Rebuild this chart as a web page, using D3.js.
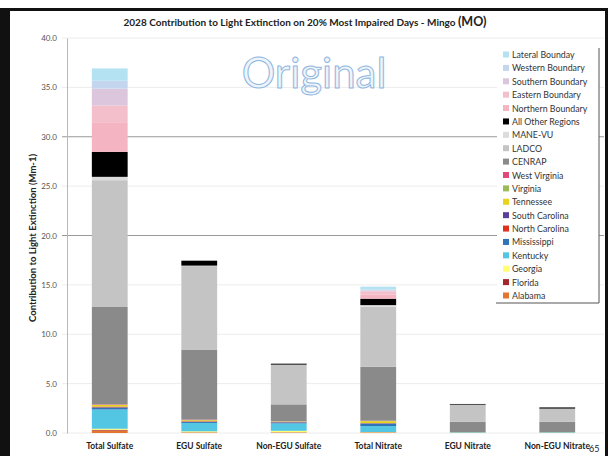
<!DOCTYPE html>
<html>
<head>
<meta charset="utf-8">
<script src="https://cdn.jsdelivr.net/npm/d3@7"></script>
<style>
  body { margin: 0; background: #fff; }
  svg { display: block; font-family: Lato, "Open Sans", sans-serif; }
</style>
</head>
<body>
<svg id="chart"></svg>
<script>
// categories along the x axis
const categories = ["Total Sulfate", "EGU Sulfate", "Non-EGU Sulfate", "Total Nitrate", "EGU Nitrate", "Non-EGU Nitrate"];

// source regions, stacked bottom -> top
const sources = ["Alabama", "Florida", "Georgia", "Kentucky", "Mississippi", "North Carolina",
  "South Carolina", "Tennessee", "Virginia", "West Virginia", "CENRAP", "LADCO", "MANE-VU",
  "All Other Regions", "Northern Boundary", "Eastern Boundary", "Southern Boundary",
  "Western Boundary", "Lateral Bounday"];

// values per source (Mm-1), one per category
const alabama       = [0.25, 0.05, 0.05, 0.05, 0.01, 0.01];
const florida       = [0.08, 0.02, 0.02, 0.02, 0.00, 0.00];
const georgia       = [0.10, 0.10, 0.15, 0.03, 0.01, 0.01];
const kentucky      = [1.95, 0.85, 0.75, 0.60, 0.05, 0.05];
const mississippi   = [0.20, 0.10, 0.10, 0.25, 0.01, 0.01];
const northCarolina = [0.04, 0.05, 0.02, 0.02, 0.00, 0.00];
const southCarolina = [0.05, 0.02, 0.02, 0.03, 0.00, 0.00];
const tennessee     = [0.17, 0.10, 0.05, 0.20, 0.01, 0.01];
const virginia      = [0.02, 0.02, 0.01, 0.02, 0.00, 0.00];
const westVirginia  = [0.05, 0.05, 0.02, 0.03, 0.00, 0.00];
const cenrap        = [9.85, 7.09, 1.71, 5.45, 1.06, 1.06];
const ladco         = [12.84, 8.45, 4.00, 6.10, 1.70, 1.30];
const maneVu        = [0.34, 0.05, 0.02, 0.15, 0.02, 0.02];
const allOther      = [2.53, 0.50, 0.10, 0.65, 0.07, 0.12];
const northernBnd   = [3.00, 0.00, 0.00, 0.40, 0.00, 0.00];
const easternBnd    = [1.70, 0.00, 0.00, 0.35, 0.00, 0.00];
const southernBnd   = [1.70, 0.00, 0.00, 0.10, 0.00, 0.00];
const westernBnd    = [0.80, 0.00, 0.00, 0.07, 0.00, 0.00];
const lateralBnd    = [1.25, 0.00, 0.00, 0.30, 0.00, 0.00];

const seriesValues = [alabama, florida, georgia, kentucky, mississippi, northCarolina,
  southCarolina, tennessee, virginia, westVirginia, cenrap, ladco, maneVu, allOther,
  northernBnd, easternBnd, southernBnd, westernBnd, lateralBnd];

const yTicks = [0, 5, 10, 15, 20, 25, 30, 35, 40];

const colors = ["#e2762f", "#a3262a", "#ffff70", "#52c6e2", "#2f73b8", "#e0301e",
  "#5b3f9c", "#e8d21e", "#9bbb59", "#e0487e", "#8a8a8a", "#c4c4c4", "#dcdcdc",
  "#000000", "#f4b4c2", "#f2bfcb", "#dcc6de", "#c3d6ee", "#b4e2f2"];

const W = 609, H = 456;
const svg = d3.select("#chart").attr("width", W).attr("height", H);

// table for d3.stack
const table = categories.map((c, i) => {
  const row = { category: c };
  sources.forEach((s, j) => { row[s] = seriesValues[j][i]; });
  return row;
});
const stacked = d3.stack().keys(sources)(table);

const x = d3.scaleBand().domain(categories).range([65, 602]).paddingInner(0.6).paddingOuter(0.3);
const y = d3.scaleLinear().domain([0, 40]).range([433, 38]);
const color = d3.scaleOrdinal().domain(sources).range(colors);

// frame
svg.append("rect").attr("x", 0).attr("y", 8).attr("width", 10).attr("height", H - 8).attr("fill", "#111");
svg.append("rect").attr("x", 0).attr("y", 8).attr("width", 608).attr("height", 3).attr("fill", "#111");
svg.append("rect").attr("x", 605).attr("y", 8).attr("width", 3).attr("height", H - 8).attr("fill", "#111");

// title
const title = svg.append("text")
  .attr("x", 305).attr("y", 26)
  .attr("text-anchor", "middle")
  .style("font-size", "10px").style("font-weight", "bold").style("fill", "#222");
title.append("tspan").text("2028 Contribution to Light Extinction on 20% Most Impaired Days - Mingo ");
title.append("tspan").style("font-size", "12.5px").text(" (MO)");

// gridlines
svg.append("g").selectAll("line")
  .data(yTicks)
  .join("line")
  .attr("x1", 62).attr("x2", 604)
  .attr("y1", d => y(d)).attr("y2", d => y(d))
  .attr("stroke", d => (d === 20 || d === 30) ? "#9a9a9a" : "#ececec")
  .attr("stroke-width", 1);

// y axis
const yAxis = svg.append("g")
  .attr("transform", "translate(67,0)")
  .call(d3.axisLeft(y).tickValues(yTicks).tickFormat(d3.format(".1f")).tickSize(0).tickPadding(10));
yAxis.select(".domain").attr("stroke", "#b8b8b8");
yAxis.selectAll("text").style("font-size", "8px").style("fill", "#555").style("font-family", "Lato, sans-serif");

svg.append("text")
  .attr("text-anchor", "middle")
  .attr("transform", "translate(36,238) rotate(-90)")
  .style("font-size", "9.5px").style("font-weight", "bold").style("fill", "#222")
  .text("Contribution to Light Extinction (Mm-1)");

// watermark
svg.append("text")
  .attr("x", 314).attr("y", 88)
  .attr("text-anchor", "middle")
  .style("font-size", "42px")
  .style("fill", "#eef4fb")
  .style("stroke", "#8fb6e0")
  .style("stroke-width", 1)
  .text("Original");

// bars
svg.append("g").selectAll("g")
  .data(stacked)
  .join("g")
  .attr("fill", d => color(d.key))
  .selectAll("rect")
  .data(d => d)
  .join("rect")
  .attr("x", d => x(d.data.category))
  .attr("width", x.bandwidth())
  .attr("y", d => y(d[1]))
  .attr("height", d => Math.max(0, y(d[0]) - y(d[1])));

// x labels
svg.append("g").selectAll("text")
  .data(categories)
  .join("text")
  .attr("x", d => x(d) + x.bandwidth() / 2)
  .attr("y", 449)
  .attr("text-anchor", "middle")
  .style("font-size", "8.5px").style("font-weight", "bold").style("fill", "#222")
  .text(d => d);

// legend
const legend = svg.append("g");
legend.append("rect")
  .attr("x", 497).attr("y", 45).attr("width", 102).attr("height", 258)
  .attr("fill", "#fff");
legend.append("path")
  .attr("d", "M599,48V303H496")
  .attr("fill", "none").attr("stroke", "#555").attr("stroke-width", 1);

const legendItems = sources.slice().reverse();
const ly = d3.scalePoint().domain(legendItems).range([55, 296]);
const items = legend.selectAll("g.item")
  .data(legendItems)
  .join("g")
  .attr("class", "item")
  .attr("transform", d => `translate(503,${ly(d)})`);
items.append("rect")
  .attr("x", 0).attr("y", -3.5).attr("width", 6).attr("height", 6)
  .attr("fill", d => color(d));
items.append("text")
  .attr("x", 9).attr("y", 3)
  .style("font-size", "8.8px").style("fill", "#333")
  .text(d => d);

// page number
svg.append("text")
  .attr("x", 589).attr("y", 452)
  .style("font-size", "9px").style("fill", "#222")
  .text("65");
</script>
</body>
</html>
